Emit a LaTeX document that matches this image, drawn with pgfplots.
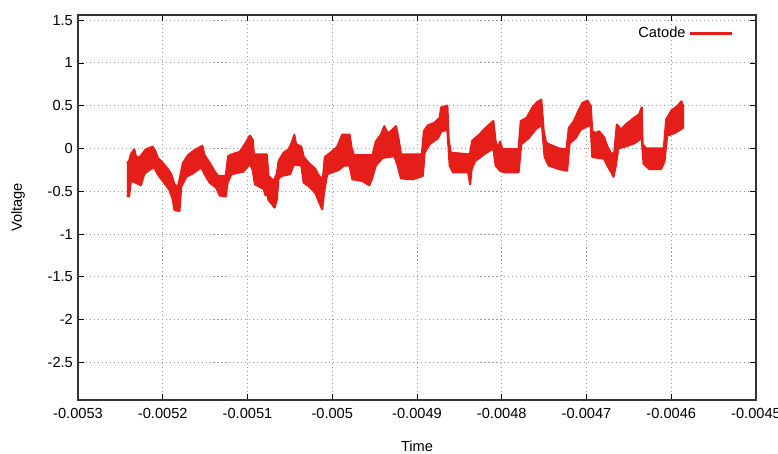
\documentclass[border=0pt]{standalone}
\usepackage{fontspec}
\setmainfont{Liberation Sans}
\usepackage{pgfplots}
\pgfplotsset{compat=1.18}
\definecolor{sigred}{RGB}{230,30,25}
\begin{document}
\fontsize{11}{13}\selectfont
\begin{tikzpicture}
\begin{axis}[name=ax, scale only axis, width=508.5bp, height=288.75bp,
  xmin=-0.0053, xmax=-0.0045, ymin=-2.94, ymax=1.56,
  scaled x ticks=false, scaled y ticks=false,
  xtick={-0.0053,-0.0052,-0.0051,-0.005,-0.0049,-0.0048,-0.0047,-0.0046,-0.0045},
  xticklabels={-0.0053,-0.0052,-0.0051,-0.005,-0.0049,-0.0048,-0.0047,-0.0046,-0.0045},
  ytick={-2.5,-2,-1.5,-1,-0.5,0,0.5,1,1.5},
  yticklabels={-2.5,-2,-1.5,-1,-0.5,0,0.5,1,1.5},
  tick align=inside, major tick length=4.5bp,
  tick style={black, line width=0.6pt},
  grid=major, major grid style={black!40, dash pattern=on 0.8pt off 2.2pt, line width=0.7pt},
  axis line style={black!80, line width=0.8pt},
  xticklabel style={yshift=-2bp},
  every axis x label/.style={at={(axis description cs:0.5,-0.1195)}, anchor=center},
  every axis y label/.style={at={(axis description cs:-0.0885,0.5)}, rotate=90, anchor=center},
  xlabel={Time}, ylabel={Voltage},
  legend style={draw=none, fill=none, inner sep=0pt, at={(axis description cs:0.9676,0.953)}, anchor=east},
  legend plot pos=right,
  legend image code/.code={\draw[#1] (0bp,0bp) -- (32bp,0bp);},
]
\addplot[fill=sigred, draw=sigred, line width=1.6bp, line join=round, forget plot] coordinates {
(-0.0052424,-0.17) (-0.0052397,-0.15) (-0.0052377,-0.07) (-0.0052337,-0.01) (-0.0052317,-0.09)
(-0.0052278,-0.11) (-0.0052238,-0.06) (-0.0052198,-0.01) (-0.0052119,0.02) (-0.0052088,-0.03)
(-0.0052059,-0.11) (-0.0052000,-0.17) (-0.0051941,-0.24) (-0.0051901,-0.30) (-0.0051862,-0.42)
(-0.0051822,-0.45) (-0.0051794,-0.33) (-0.0051762,-0.17) (-0.0051703,-0.08) (-0.0051625,-0.02)
(-0.0051533,0.03) (-0.0051506,-0.08) (-0.0051446,-0.17) (-0.0051387,-0.27) (-0.0051347,-0.32)
(-0.0051256,-0.32) (-0.0051228,-0.09) (-0.0051189,-0.07) (-0.0051090,-0.04) (-0.0051031,0.05)
(-0.0050971,0.15) (-0.0050939,0.10) (-0.0050924,-0.07) (-0.0050773,-0.07)
(-0.0050753,-0.32) (-0.0050693,-0.38) (-0.0050654,-0.30) (-0.0050634,-0.15) (-0.0050574,-0.05)
(-0.0050515,-0.01) (-0.0050476,0.07) (-0.0050448,0.16) (-0.0050428,0.05) (-0.0050365,0.02)
(-0.0050337,-0.10) (-0.0050277,-0.17) (-0.0050199,-0.24) (-0.0050158,-0.32) (-0.0050111,-0.36)
(-0.0050087,-0.10) (-0.0050021,-0.05) (-0.0049941,0.02) (-0.0049882,0.16) (-0.0049795,0.16)
(-0.0049771,0.00) (-0.0049743,-0.08) (-0.0049525,-0.08) (-0.0049486,0.08) (-0.0049427,0.16)
(-0.0049386,0.26) (-0.0049347,0.18) (-0.0049308,0.20) (-0.0049248,0.26) (-0.0049216,0.10)
(-0.0049189,-0.07)
(-0.0048943,-0.07) (-0.0048919,0.20) (-0.0048872,0.27) (-0.0048792,0.30) (-0.0048733,0.36)
(-0.0048714,0.48) (-0.0048642,0.50) (-0.0048626,0.10) (-0.0048602,-0.05) (-0.0048376,-0.07)
(-0.0048349,0.09) (-0.0048278,0.15) (-0.0048179,0.25) (-0.0048099,0.32) (-0.0048072,0.08)
(-0.0048048,0.00) (-0.0048020,0.08) (-0.0047993,-0.01) (-0.0047802,-0.01) (-0.0047775,0.32)
(-0.0047704,0.36) (-0.0047644,0.47) (-0.0047585,0.54) (-0.0047533,0.57) (-0.0047505,0.20)
(-0.0047478,0.07) (-0.0047446,0.05) (-0.0047327,0.00)
(-0.0047236,-0.01) (-0.0047208,0.24) (-0.0047149,0.32) (-0.0047090,0.45) (-0.0047050,0.53)
(-0.0046991,0.56) (-0.0046951,0.50) (-0.0046932,0.20) (-0.0046891,0.18) (-0.0046852,0.20)
(-0.0046793,0.13) (-0.0046753,0.02) (-0.0046713,-0.05) (-0.0046674,-0.07) (-0.0046642,0.28)
(-0.0046594,0.22) (-0.0046535,0.28) (-0.0046436,0.36) (-0.0046377,0.40) (-0.0046349,0.48)
(-0.0046338,0.05) (-0.0046297,0.00) (-0.0046088,0.00) (-0.0046059,0.34) (-0.0046000,0.44)
(-0.0045922,0.50) (-0.0045881,0.55) (-0.0045862,0.50)
(-0.0045862,0.24) (-0.0045961,0.18) (-0.0046048,0.15) (-0.0046080,-0.15) (-0.0046119,-0.24)
(-0.0046258,-0.24) (-0.0046326,-0.18) (-0.0046349,0.12) (-0.0046436,0.06) (-0.0046555,0.02)
(-0.0046626,0.00) (-0.0046654,-0.20) (-0.0046682,-0.33) (-0.0046706,-0.28) (-0.0046753,-0.20)
(-0.0046793,-0.12) (-0.0046932,-0.10) (-0.0046951,0.28) (-0.0047069,0.22) (-0.0047129,0.12)
(-0.0047200,0.06) (-0.0047229,-0.26)
(-0.0047327,-0.24) (-0.0047446,-0.20) (-0.0047494,-0.10) (-0.0047526,0.28) (-0.0047604,0.22)
(-0.0047684,0.12) (-0.0047770,0.05) (-0.0047802,-0.28) (-0.0047960,-0.28) (-0.0048020,-0.26)
(-0.0048072,-0.20) (-0.0048099,0.00) (-0.0048198,-0.06) (-0.0048317,-0.15) (-0.0048357,-0.25)
(-0.0048373,-0.42) (-0.0048396,-0.28) (-0.0048575,-0.28) (-0.0048614,-0.20) (-0.0048642,0.22)
(-0.0048714,0.20) (-0.0048753,0.12) (-0.0048852,0.05) (-0.0048911,-0.05) (-0.0048931,-0.32)
(-0.0049050,-0.36) (-0.0049189,-0.35) (-0.0049228,-0.20) (-0.0049267,-0.09) (-0.0049406,-0.11)
(-0.0049486,-0.20) (-0.0049534,-0.36) (-0.0049564,-0.43) (-0.0049644,-0.38) (-0.0049763,-0.36)
(-0.0049795,-0.20) (-0.0049861,-0.20) (-0.0049921,-0.25) (-0.0050060,-0.30) (-0.0050095,-0.50)
(-0.0050119,-0.71) (-0.0050158,-0.62) (-0.0050199,-0.52) (-0.0050277,-0.44) (-0.0050337,-0.40)
(-0.0050365,-0.20) (-0.0050455,-0.19) (-0.0050496,-0.30) (-0.0050594,-0.32) (-0.0050634,-0.35)
(-0.0050654,-0.60) (-0.0050681,-0.69) (-0.0050753,-0.60)
(-0.0050773,-0.47) (-0.0050785,-0.55) (-0.0050812,-0.47) (-0.0050912,-0.42) (-0.0050939,-0.25)
(-0.0050971,-0.18) (-0.0051050,-0.27) (-0.0051189,-0.30) (-0.0051236,-0.40) (-0.0051256,-0.56)
(-0.0051328,-0.55) (-0.0051367,-0.46) (-0.0051446,-0.40) (-0.0051506,-0.30) (-0.0051545,-0.22)
(-0.0051644,-0.29) (-0.0051723,-0.33) (-0.0051783,-0.45) (-0.0051803,-0.73) (-0.0051862,-0.72)
(-0.0051881,-0.60) (-0.0051922,-0.48) (-0.0052000,-0.38) (-0.0052059,-0.30) (-0.0052100,-0.22)
(-0.0052159,-0.25) (-0.0052219,-0.30) (-0.0052258,-0.43) (-0.0052317,-0.40) (-0.0052377,-0.38)
(-0.0052397,-0.56) (-0.0052424,-0.55)
};
\addlegendimage{sigred, line width=2.2bp}
\addlegendentry{Catode}
\end{axis}
\pgfresetboundingbox
\path ([shift={(-58.5bp,-40.5bp)}]ax.south west) rectangle ([shift={(16.5bp,11.25bp)}]ax.north east);
\end{tikzpicture}
\end{document}
